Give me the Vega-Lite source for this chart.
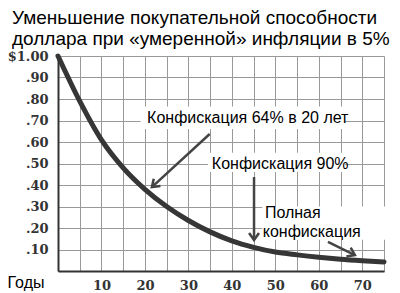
{
  "$schema": "https://vega.github.io/schema/vega-lite/v6.json",
  "width": 326,
  "height": 215,
  "autosize": {"type": "none"},
  "padding": {"left": 58, "top": 56, "right": 16, "bottom": 22},
  "background": "white",
  "config": {"view": {"stroke": null}, "font": "Liberation Sans"},
  "title": {
    "text": ["Уменьшение покупательной способности", "доллара при «умеренной» инфляции в 5%"],
    "anchor": "start",
    "frame": "group",
    "dx": -46,
    "offset": -3,
    "fontSize": 19,
    "fontWeight": "normal",
    "lineHeight": 21,
    "color": "#000",
    "font": "Liberation Sans"
  },
  "datasets": {
    "curve": [
      {"t": 0, "v": 1.0},
      {"t": 5, "v": 0.79},
      {"t": 10, "v": 0.61},
      {"t": 15, "v": 0.48},
      {"t": 20, "v": 0.38},
      {"t": 25, "v": 0.3},
      {"t": 30, "v": 0.235},
      {"t": 35, "v": 0.182},
      {"t": 40, "v": 0.14},
      {"t": 45, "v": 0.11},
      {"t": 50, "v": 0.088},
      {"t": 55, "v": 0.075},
      {"t": 60, "v": 0.064},
      {"t": 65, "v": 0.055},
      {"t": 70, "v": 0.048},
      {"t": 75, "v": 0.042}
    ],
    "boxes": [
      {"t": 19, "t2": 66, "v": 0.66, "v2": 0.765},
      {"t": 34.5, "t2": 66, "v": 0.46, "v2": 0.55},
      {"t": 47, "t2": 76.5, "v": 0.145, "v2": 0.3}
    ],
    "arrows": [
      {"t": 34.9, "v": 0.637, "t2": 21.6, "v2": 0.39, "heading": 47.6},
      {"t": 45.1, "v": 0.437, "t2": 45.1, "v2": 0.144, "heading": 0},
      {"t": 62.1, "v": 0.135, "t2": 68.3, "v2": 0.074, "heading": 296}
    ],
    "labels": [
      {"t": 20.5, "v": 0.712, "label": "Конфискация 64% в 20 лет"},
      {"t": 35.4, "v": 0.5, "label": "Конфискация 90%"},
      {"t": 47.6, "v": 0.27, "label": "Полная"},
      {"t": 47.1, "v": 0.182, "label": "конфискация"}
    ]
  },
  "encoding": {
    "x": {
      "field": "t",
      "type": "quantitative",
      "scale": {"domain": [0, 75], "nice": false, "zero": false},
      "axis": {
        "values": [0, 5, 10, 15, 20, 25, 30, 35, 40, 45, 50, 55, 60, 65, 70, 75],
        "labelExpr": "datum.value % 10 == 0 && datum.value > 0 ? datum.label : ''",
        "grid": true,
        "gridColor": "#999",
        "gridWidth": 1,
        "domainColor": "#333",
        "domainWidth": 2,
        "ticks": false,
        "labelPadding": 8,
        "labelFont": "DejaVu Serif",
        "labelFontWeight": "bold",
        "labelFontSize": 13,
        "labelColor": "#333",
        "title": "Годы",
        "titleX": -51,
        "titleY": 16,
        "titleAlign": "left",
        "titleAnchor": null,
        "titleBaseline": "alphabetic",
        "titleFont": "Liberation Sans",
        "titleFontWeight": "normal",
        "titleFontSize": 16,
        "titleColor": "#000"
      }
    },
    "y": {
      "field": "v",
      "type": "quantitative",
      "scale": {"domain": [0, 1], "nice": false},
      "axis": {
        "values": [0, 0.1, 0.2, 0.3, 0.4, 0.5, 0.6, 0.7, 0.8, 0.9, 1.0],
        "labelExpr": "datum.value == 1 ? '$1.00' : datum.value == 0 ? '' : replace(format(datum.value, '.2f'), '0.', '.')",
        "grid": true,
        "gridColor": "#999",
        "gridWidth": 1,
        "domainColor": "#333",
        "domainWidth": 2,
        "ticks": false,
        "labelPadding": 10,
        "labelFont": "DejaVu Serif",
        "labelFontWeight": "bold",
        "labelFontSize": 13,
        "labelColor": "#333",
        "title": null
      }
    }
  },
  "layer": [
    {
      "data": {"name": "boxes"},
      "mark": {"type": "rect", "color": "white"},
      "encoding": {"x2": {"field": "t2"}, "y2": {"field": "v2"}}
    },
    {
      "data": {"name": "curve"},
      "mark": {"type": "line", "color": "#363636", "strokeWidth": 5, "interpolate": "monotone", "strokeCap": "round"},
      "encoding": {}
    },
    {
      "data": {"name": "arrows"},
      "mark": {"type": "rule", "color": "#444", "strokeWidth": 2.5},
      "encoding": {"x2": {"field": "t2"}, "y2": {"field": "v2"}}
    },
    {
      "data": {"name": "arrows"},
      "mark": {"type": "point", "shape": "M-0.7,-1L0,0L0.7,-1", "filled": false, "color": "#444", "strokeWidth": 2.5, "size": 200, "opacity": 1},
      "encoding": {
        "x": {"field": "t2", "type": "quantitative"},
        "y": {"field": "v2", "type": "quantitative"},
        "angle": {"field": "heading", "type": "quantitative", "scale": null}
      }
    },
    {
      "data": {"name": "labels"},
      "mark": {"type": "text", "align": "left", "baseline": "middle", "font": "Liberation Sans", "fontSize": 16, "color": "#000"},
      "encoding": {"text": {"field": "label"}}
    }
  ]
}
